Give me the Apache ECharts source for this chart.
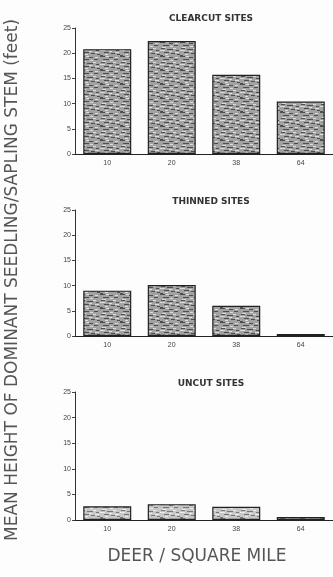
<!DOCTYPE html>
<html>
<head>
<meta charset="utf-8">
<script src="https://cdn.jsdelivr.net/npm/echarts@6/dist/echarts.min.js"></script>
<style>
  html, body { margin: 0; padding: 0; background: #fff; }
  #chart { width: 333px; height: 577px; }
</style>
</head>
<body>
<div id="chart"></div>
<script>
// Deer density classes (deer per square mile)
const categories = ['10', '20', '38', '64'];
// Mean height of dominant seedling/sapling stem (feet) per stand treatment
const clearcutHeights = [20.8, 22.4, 15.7, 10.4];
const thinnedHeights = [9.0, 10.1, 6.0, 0.4];
const uncutHeights = [2.7, 3.1, 2.6, 0.6];
const panelTitles = ['CLEARCUT SITES', 'THINNED SITES', 'UNCUT SITES'];
const yTicks = [0, 5, 10, 15, 20, 25];

// Stippled fill: short dark and pale dashes over a grey ground
function makeStipple(base, ink, pale) {
  const c = document.createElement('canvas');
  c.width = 20; c.height = 14;
  const g = c.getContext('2d');
  g.fillStyle = base;
  g.fillRect(0, 0, 20, 14);
  g.fillStyle = ink;
  const dark = [
    [0, 0, 5], [9, 1, 4], [3, 3, 6], [14, 3, 4], [1, 6, 4],
    [7, 7, 6], [16, 8, 3], [4, 10, 5], [11, 11, 4], [0, 13, 3], [17, 12, 3]
  ];
  dark.forEach(([x, y, w]) => g.fillRect(x, y, w, 1));
  g.fillStyle = pale;
  const light = [
    [6, 0, 3], [15, 1, 3], [10, 4, 3], [2, 5, 4], [13, 6, 3],
    [0, 8, 5], [9, 9, 3], [15, 10, 4], [5, 12, 3]
  ];
  light.forEach(([x, y, w]) => g.fillRect(x, y, w, 1));
  return c;
}
const darkFill = { image: makeStipple('#a2a2a2', '#4e4e4e', '#dcdcdc'), repeat: 'repeat' };
const lightFill = { image: makeStipple('#c6c6c6', '#777777', '#ececec'), repeat: 'repeat' };

const chart = echarts.init(document.getElementById('chart'), null, { renderer: 'canvas' });

const FONT = 'Liberation Sans, Arial, sans-serif';
const WIDE = 'DejaVu Sans, sans-serif';
const grids = [
  { left: 75, width: 259, top: 28, height: 126 },
  { left: 75, width: 259, top: 210, height: 126 },
  { left: 75, width: 259, top: 392, height: 128 }
];
const seriesData = [clearcutHeights, thinnedHeights, uncutHeights];
const fills = [darkFill, darkFill, lightFill];

const option = {
  backgroundColor: '#fdfdfd',
  animation: false,
  textStyle: { fontFamily: FONT },
  title: panelTitles.map((t, i) => ({
    text: t,
    left: 206,
    textAlign: 'center',
    top: [9, 192, 374][i],
    textStyle: { fontSize: 9, fontWeight: 'bold', color: '#333', fontFamily: WIDE }
  })),
  grid: grids,
  xAxis: grids.map((g, i) => ({
    type: 'category',
    gridIndex: i,
    data: categories,
    axisLine: { lineStyle: { color: '#222', width: 1.2 } },
    axisTick: { show: false },
    axisLabel: { fontSize: 7, color: '#444', margin: 6 }
  })),
  yAxis: grids.map((g, i) => ({
    type: 'value',
    gridIndex: i,
    min: 0,
    max: 25,
    interval: 5,
    axisLine: { show: true, lineStyle: { color: '#333', width: 1 } },
    axisTick: { show: true, length: 3, lineStyle: { color: '#444' } },
    splitLine: { show: false },
    axisLabel: { fontSize: 7, color: '#444', margin: 4,
      formatter: v => (yTicks.includes(v) ? String(v) : '') }
  })),
  series: seriesData.map((d, i) => ({
    type: 'bar',
    xAxisIndex: i,
    yAxisIndex: i,
    data: d,
    barWidth: 48,
    itemStyle: { color: fills[i], borderColor: '#222', borderWidth: 1.2 }
  })),
  graphic: [
    {
      type: 'text',
      x: 13,
      y: 280,
      rotation: Math.PI / 2,
      style: {
        text: 'MEAN HEIGHT OF DOMINANT SEEDLING/SAPLING STEM (feet)',
        fontSize: 17,
        fill: '#555',
        fontFamily: WIDE,
        align: 'center',
        verticalAlign: 'middle'
      }
    },
    {
      type: 'text',
      x: 197,
      y: 557,
      style: {
        text: 'DEER / SQUARE MILE',
        fontSize: 17,
        fill: '#555',
        fontFamily: WIDE,
        align: 'center',
        verticalAlign: 'middle'
      }
    }
  ]
};
chart.setOption(option);
</script>
</body>
</html>
